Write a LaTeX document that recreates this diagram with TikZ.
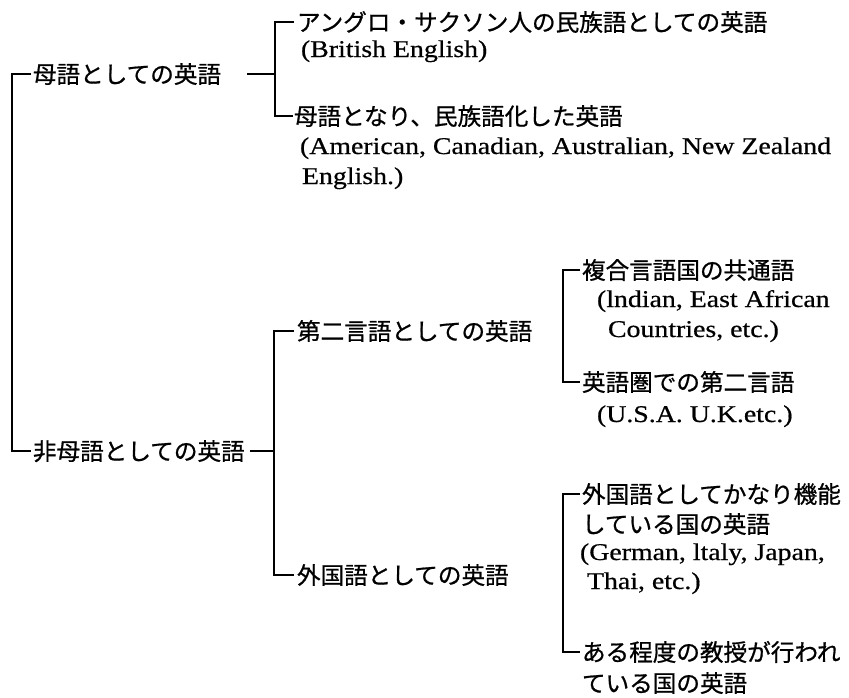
\documentclass[tikz,border=0pt]{standalone}
\usepackage{fontspec}
\setmainfont{Liberation Serif}[FakeStretch=1.16,FakeBold=0.6]
\newfontfamily\jpfont{Noto Sans CJK JP}[FakeBold=0.8]
\tikzset{
  jp/.style={anchor=west, inner sep=0pt, outer sep=0pt,
    font=\jpfont\fontsize{23.6}{28}\selectfont, text height=20.8pt, text depth=2.8pt},
  en/.style={anchor=west, inner sep=0pt, outer sep=0pt,
    font=\fontsize{24}{28}\selectfont, text height=16pt, text depth=0pt},
  link/.style={line width=2pt, line cap=butt, line join=miter},
}
\begin{document}
\begin{tikzpicture}[x=1pt,y=-1pt]
\useasboundingbox (0,0) rectangle (849,697);
% level 0
\node[jp] (n1) at (33,74) {母語としての英語};
\node[jp] (n2) at (33,451) {非母語としての英語};
% level 1, native
\node[jp] (n11) at (297,22) {アングロ・サクソン人の民族語としての英語};
\node[en] (n11b) at (301,49) {(British English)};
\node[jp] (n12) at (294,116) {母語となり、民族語化した英語};
\node[en] (n12b) at (300,146) {(American, Canadian, Australian, New Zealand};
\node[en] (n12c) at (302,176) {English.)};
% level 1, non-native
\node[jp] (n21) at (297,331) {第二言語としての英語};
\node[jp] (n22) at (297,575) {外国語としての英語};
% level 2, second language
\node[jp] (n211) at (582,270) {複合言語国の共通語};
\node[en] (n211b) at (597,299) {(lndian, East African};
\node[en] (n211c) at (608,329) {Countries, etc.)};
\node[jp] (n212) at (582,382) {英語圏での第二言語};
\node[en] (n212b) at (597,414) {(U.S.A. U.K.etc.)};
% level 2, foreign language
\node[jp] (n221) at (582,494) {外国語としてかなり機能};
\node[jp] (n221b) at (582,524) {している国の英語};
\node[en] (n221c) at (580,552) {(German, ltaly, Japan,};
\node[en] (n221d) at (587,581) {Thai, etc.)};
\node[jp] (n222) at (582,652) {ある程度の教授が行われ};
\node[jp] (n222b) at (582,683) {ている国の英語};
% spines
\coordinate (s0) at (12,0);
\coordinate (s1) at (275,0);
\coordinate (s2) at (274,0);
\coordinate (s3) at (563,0);
% connectors
\draw[link] ([xshift=-2pt]n1.west) -| (s0 |- n2.west) -- ([xshift=-2pt]n2.west);
\draw[link] ([xshift=-3pt]n11.west) -| (s1 |- n12.west) -- ([xshift=-1pt]n12.west);
\draw[link] ([xshift=26pt]n1.east) -- (s1 |- n1.east);
\draw[link] ([xshift=-3pt]n21.west) -| (s2 |- n22.west) -- ([xshift=-3pt]n22.west);
\draw[link] ([xshift=5pt]n2.east) -- (s2 |- n2.east);
\draw[link] ([xshift=-2pt]n211.west) -| (s3 |- n212.west) -- ([xshift=-2pt]n212.west);
\draw[link] ([xshift=-2pt]n221.west) -| (s3 |- n222.west) -- ([xshift=-2pt]n222.west);
\end{tikzpicture}
\end{document}
